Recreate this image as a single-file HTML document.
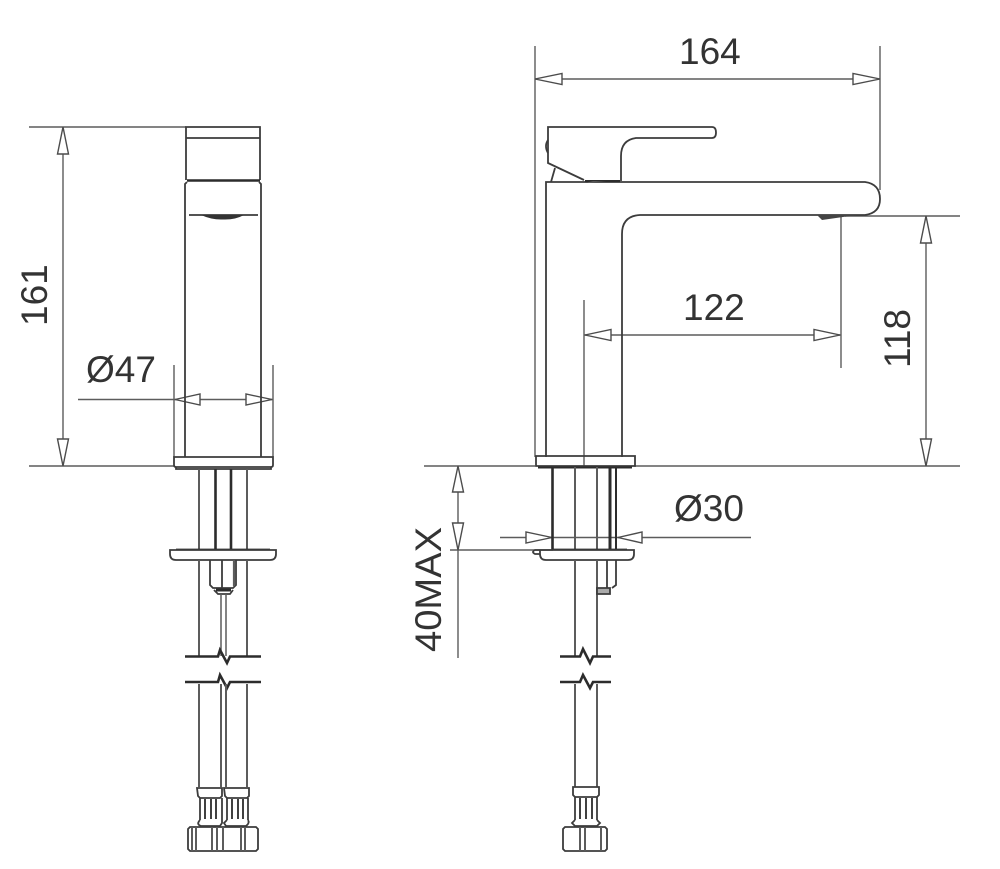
<!DOCTYPE html>
<html>
<head>
<meta charset="utf-8">
<style>
html,body{margin:0;padding:0;background:#fff;}
svg{display:block;}
text{font-family:"Liberation Sans",sans-serif;font-size:37px;fill:#333;}
.d{stroke:#5c5c5c;stroke-width:1.4;fill:none;}
.o{stroke:#3c3c3c;stroke-width:1.8;fill:none;}
.k{stroke:#2c2c2c;stroke-width:2.6;fill:none;}
.m{stroke:#5c5c5c;stroke-width:2;fill:none;}
.a{stroke:#4c4c4c;stroke-width:1.4;fill:#fff;}
</style>
</head>
<body>
<svg width="1000" height="869" viewBox="0 0 1000 869" xmlns="http://www.w3.org/2000/svg">

<!-- LEFT VIEW: dimensions -->
<path class="d" d="M29 127H186M29 466H175M63 127V466M78 399.5H273M174 365V457M273 365V457"/>
<path class="a" d="M63 127L68.500 154H57.500Z"/>
<path class="a" d="M63 466L68.500 439H57.500Z"/>
<path class="a" d="M175 399.500L200 394V405Z"/>
<path class="a" d="M272 399.500L246 394V405Z"/>

<!-- LEFT VIEW: body -->
<path class="o" d="M186 180V127H260V180M186 138H260"/>
<path class="k" d="M187 180.500H260"/>
<path class="o" d="M187 182L185 184V457M259 182L261 184V457"/>
<path class="o" d="M189 215H258"/>
<path d="M201 215Q212 220 223 219.500Q235 220 244 215Z" fill="#333"/>
<path class="o" d="M174 457H273V465Q273 467 271 467H176Q174 467 174 465Z"/>
<path class="o" d="M176 467V469H271V467"/>

<!-- LEFT VIEW: pipes -->
<path class="m" d="M199 469V549M247 469V549"/>
<path class="k" d="M215.500 469V549M231 469V549"/>
<path class="k" d="M176 549.500H270" style="stroke-width:1.8"/>
<path class="o" d="M170 550H276V554Q276 560 270 560H176Q170 560 170 554Z"/>
<path class="m" d="M199 560V656M247 560V656"/>
<path class="o" d="M210 560V585L213 588H233L236 585V560M222 560V588"/>
<path class="m" d="M234 560V586" style="stroke-width:2.200"/>
<path class="o" d="M214 590L218 594H230L233 590"/>
<path class="k" d="M216 590H231" style="stroke-width:3"/>
<path class="m" d="M221 594V656M226 594V656" style="stroke-width:1.500"/>
<path class="k" d="M185 656.500H218L220 650L227 663L230 656.500H261"/>
<path class="k" d="M185 682H218L220 675L227 688L230 682H261"/>
<path class="m" d="M199 684V787M221 684V787M226 684V787M247 684V787"/>

<!-- LEFT VIEW: fittings -->
<path class="o" d="M197 788H222V796L220 798H200L198 796Z"/>
<path class="o" d="M224 788H249V796L247 798H227L225 796Z"/>
<path class="o" d="M200 798V820M222 798V820M227 798V820M248 798V820"/>
<path class="k" d="M205 799V819M211 799V819M216 799V819M232 799V819M238 799V819M243 799V819" style="stroke-width:1.800"/>
<path class="o" d="M200 820Q197 823 199 825L201 826H220L222 823V820M227 820L224 823L226 826H246Q250 823 248 820"/>
<path class="o" d="M190 827H256L258 829V849L256 851H190L188 849V829Z"/>
<path class="m" d="M192 827V851M196 827V851M212 827V851M217 827V851M223 827V851M241 827V851M245 827V851"/>

<!-- RIGHT VIEW: dimensions -->
<path class="d" d="M535 46V457M880 46V190M535 79H880M845 216H960M841 216V368M584 300V466M584 335H841M926 216V466M424 466H535M634 466H960M458 466V658M500 537.500H751M450 550H553"/>
<path class="a" d="M535 79L562 73.500V84.500Z"/>
<path class="a" d="M880 79L853 73.500V84.500Z"/>
<path class="a" d="M585 335L611 329.500V340.500Z"/>
<path class="a" d="M840 335L814 329.500V340.500Z"/>
<path class="a" d="M926 216L931.500 243H920.500Z"/>
<path class="a" d="M926 466L931.500 439H920.500Z"/>
<path class="a" d="M458 466L463.500 492H452.500Z"/>
<path class="a" d="M458 550L463.500 523H452.500Z"/>
<path class="a" d="M552 537.500L526 532V543Z"/>
<path class="a" d="M618 537.500L642 532V543Z"/>

<!-- RIGHT VIEW: faucet -->
<path class="o" d="M584 180L548 163V127H712Q716 127 716 132.500Q716 138 712 138H636Q621 140 621 156V181"/>
<path class="o" d="M548 140Q544 146 548 153M555 168L551 182"/>
<path class="o" d="M546 457V182H865Q880 184 880 199Q880 213 865 215H640Q622 216 622 234V457"/>
<path class="k" d="M585 181H620" style="stroke-width:2"/>
<path d="M585 183L593 181H606Z" fill="#555"/>
<path d="M817 215H857L822 220Z" fill="#444"/>

<path class="o" d="M536 456H635V466H536Z"/>
<path class="k" d="M538 467.500H632" style="stroke-width:2"/>

<!-- RIGHT VIEW: pipes -->
<path class="k" d="M552.500 467V550"/>
<path class="m" d="M575 467V549M597 467V549"/>
<path class="k" d="M610 467V549" style="stroke-width:3"/>
<path class="k" d="M616 467V550" style="stroke-width:2"/>
<path class="k" d="M553 549.500H627" style="stroke-width:1.800"/>
<path class="o" d="M540 550H634V554Q634 560 628 560H546Q540 560 540 554ZM540 550H535Q531 552 535 554H540"/>
<path class="m" d="M575 560V656M597 560V656"/>
<path class="o" d="M607 560V588M616 560V585L612 588"/>
<path class="o" d="M597 588H610V594H597Z" style="fill:#aaa"/>
<path class="k" d="M560 656.500H580L583 649L590 663L593 656.500H611"/>
<path class="k" d="M560 682H580L583 675L590 688L593 682H611"/>
<path class="m" d="M575 684V787M597 684V787"/>

<!-- RIGHT VIEW: fitting -->
<path class="o" d="M573 787H599V795L597 797H575L573 795Z"/>
<path class="o" d="M575 797V820M597 797V820"/>
<path class="k" d="M580 798V819M586 798V819M592 798V819" style="stroke-width:1.800"/>
<path class="o" d="M575 820L572 823L575 826H597L600 823L597 820"/>
<path class="o" d="M565 827H605L607 829V849L605 851H565L563 849V829Z"/>
<path class="m" d="M580 827V851M585 827V851M601 827V851"/>

<!-- LABELS -->
<text x="0" y="0" transform="translate(47 326) rotate(-90)">161</text>
<text x="86" y="382">Ø47</text>
<text x="679" y="64">164</text>
<text x="683" y="320">122</text>
<text x="0" y="0" transform="translate(910 368) rotate(-90)">118</text>
<text x="674" y="521">Ø30</text>
<text x="0" y="0" transform="translate(441 652) rotate(-90)" textLength="125" lengthAdjust="spacingAndGlyphs">40MAX</text>
</svg>
</body>
</html>
